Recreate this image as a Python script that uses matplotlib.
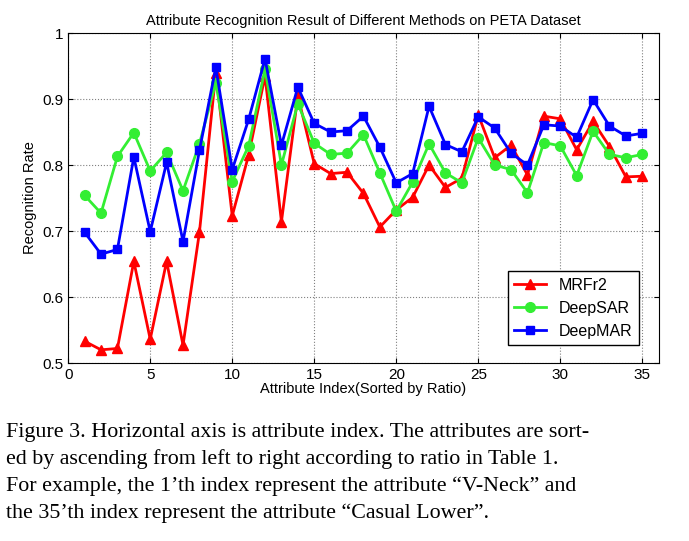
import matplotlib.pyplot as plt
import numpy as np

plt.rcParams['font.family'] = ['Liberation Sans', 'DejaVu Sans']

idx = np.arange(1, 36)
mrfr2 = [0.533, 0.520, 0.522, 0.654, 0.536, 0.654, 0.527, 0.698, 0.940, 0.723,
         0.815, 0.935, 0.714, 0.905, 0.802, 0.787, 0.789, 0.757, 0.706, 0.732,
         0.751, 0.800, 0.766, 0.780, 0.876, 0.811, 0.830, 0.785, 0.874, 0.870,
         0.823, 0.866, 0.828, 0.782, 0.783]
deepsar = [0.754, 0.727, 0.813, 0.849, 0.791, 0.819, 0.761, 0.832, 0.925, 0.775,
           0.829, 0.945, 0.800, 0.893, 0.833, 0.816, 0.818, 0.846, 0.788, 0.730,
           0.774, 0.832, 0.788, 0.773, 0.841, 0.800, 0.793, 0.758, 0.834, 0.829,
           0.784, 0.851, 0.816, 0.811, 0.816]
deepmar = [0.698, 0.665, 0.672, 0.812, 0.699, 0.804, 0.684, 0.822, 0.948, 0.793,
           0.869, 0.961, 0.830, 0.918, 0.863, 0.850, 0.852, 0.874, 0.827, 0.773,
           0.787, 0.889, 0.831, 0.820, 0.873, 0.856, 0.818, 0.800, 0.861, 0.859,
           0.842, 0.899, 0.859, 0.844, 0.848]

caption = [
    "Figure 3. Horizontal axis is attribute index. The attributes are sort-",
    "ed by ascending from left to right according to ratio in Table 1.",
    "For example, the 1\u2019th index represent the attribute \u201cV-Neck\u201d and",
    "the 35\u2019th index represent the attribute \u201cCasual Lower\u201d.",
]

fig = plt.figure(figsize=(6.89, 5.41), dpi=100)
ax = fig.add_axes([0.099, 0.329, 0.857, 0.61])
ax.plot(idx, mrfr2, color='red', marker='^', lw=2, ms=7, label='MRFr2')
ax.plot(idx, deepsar, color='#33ee33', marker='o', lw=2, ms=7, label='DeepSAR')
ax.plot(idx, deepmar, color='blue', marker='s', lw=2, ms=6, label='DeepMAR')
ax.set_xlim(0, 36)
ax.set_ylim(0.5, 1)
ax.set_xticks(range(0, 36, 5))
ax.set_yticks([0.5, 0.6, 0.7, 0.8, 0.9, 1])
ax.set_yticklabels(['0.5', '0.6', '0.7', '0.8', '0.9', '1'])
ax.grid(True, linestyle=':', color='gray', lw=0.8)
ax.tick_params(direction='in', labelsize=11, top=True, right=True)
ax.set_xlabel('Attribute Index(Sorted by Ratio)', fontsize=10.5, labelpad=0)
ax.set_ylabel('Recognition Rate', fontsize=10.5)
ax.set_title('Attribute Recognition Result of Different Methods on PETA Dataset', fontsize=10.5)
ax.legend(loc='lower right', fontsize=11.5, fancybox=False, edgecolor='black',
          framealpha=1, bbox_to_anchor=(0.98, 0.03))

for i, line in enumerate(caption):
    fig.text(0.008, 1 - (432 + 27 * i) / 541, line, family='Liberation Serif',
             fontsize=15.8, va='center', ha='left')

fig.savefig('out.png')
